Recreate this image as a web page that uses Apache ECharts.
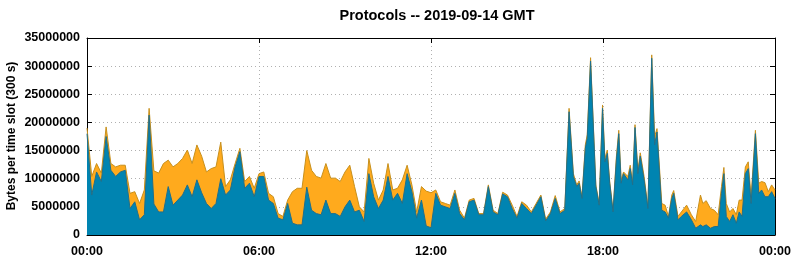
<!DOCTYPE html>
<html>
<head>
<meta charset="utf-8">
<script src="https://cdn.jsdelivr.net/npm/echarts@6/dist/echarts.min.js"></script>
<style>
  html, body { margin: 0; padding: 0; background: #fff; }
  #main { width: 795px; height: 260px; }
</style>
</head>
<body>
<div id="main"></div>
<script>
// time of each sample, minutes after 00:00 GMT
const minutes = [
  0, 10, 20, 30, 40, 50, 60, 70, 80, 90, 100, 110, 120, 130, 140, 150, 160, 170, 180, 190,
  200, 210, 220, 230, 240, 250, 260, 270, 280, 290, 300, 310, 320, 330, 340, 350, 360, 370, 380, 390,
  400, 410, 420, 430, 440, 450, 460, 470, 480, 490, 500, 510, 520, 530, 540, 550, 560, 570, 580, 590,
  600, 610, 620, 630, 640, 650, 660, 670, 680, 690, 700, 710, 720, 730, 740, 750, 760, 770, 780, 790,
  800, 810, 820, 830, 840, 850, 860, 870, 880, 890, 900, 910, 920, 930, 940, 950, 960, 970, 980, 990,
  1000, 1009, 1018, 1025, 1030, 1036, 1043, 1047, 1054, 1065, 1072, 1079, 1084, 1089, 1094, 1101, 1108, 1113, 1118, 1123,
  1132, 1137, 1142, 1147, 1153, 1158, 1166, 1174, 1177, 1182, 1188, 1193, 1203, 1210, 1217, 1224, 1228, 1237, 1244, 1255,
  1265, 1274, 1284, 1289, 1296, 1305, 1313, 1321, 1328, 1333, 1338, 1345, 1352, 1359, 1365, 1371, 1378, 1384, 1390, 1399,
  1406, 1412, 1419, 1426, 1433, 1440
];
// total bytes per slot (all protocols), millions
const totalMB = [
  19.0, 10.4, 12.7, 11.0, 19.2, 12.7, 12.1, 12.4, 12.4, 7.4, 7.7, 5.6, 8.0, 22.5, 11.4, 11.0, 12.7, 13.3, 12.1, 12.7,
  13.6, 15.1, 12.7, 16.0, 14.0, 11.2, 11.8, 12.1, 16.5, 8.6, 9.8, 12.7, 15.4, 9.5, 10.4, 8.3, 10.9, 11.2, 7.4, 6.8,
  3.8, 3.3, 6.2, 7.7, 8.3, 8.3, 15.0, 11.5, 10.4, 10.1, 12.7, 10.1, 10.1, 9.5, 11.2, 12.4, 8.6, 5.0, 4.1, 13.6,
  9.2, 6.2, 8.0, 12.7, 8.0, 8.3, 9.8, 12.4, 8.9, 4.1, 8.6, 7.8, 7.5, 8.0, 5.9, 5.6, 5.3, 8.0, 4.4, 3.0,
  6.2, 6.5, 3.8, 3.8, 8.9, 4.4, 3.8, 7.6, 7.1, 5.3, 3.3, 5.9, 5.3, 4.1, 5.6, 7.1, 2.8, 4.1, 7.0, 4.1,
  4.7, 22.5, 10.9, 8.9, 9.6, 6.8, 16.0, 17.8, 31.5, 8.9, 5.6, 23.1, 13.6, 15.1, 9.5, 4.4, 13.9, 18.6, 9.8, 11.2,
  10.4, 12.4, 9.2, 19.6, 11.5, 14.6, 10.4, 5.0, 5.3, 32.0, 17.5, 18.9, 5.6, 5.3, 3.3, 7.1, 7.9, 3.3, 4.1, 5.3,
  3.6, 2.4, 7.1, 5.6, 6.1, 4.7, 4.4, 3.6, 8.6, 12.0, 5.6, 4.1, 4.7, 3.6, 6.2, 6.2, 12.1, 13.0, 6.8, 18.6,
  9.2, 9.5, 9.3, 7.7, 8.9, 8.0
];
// bytes per slot of the main protocol (blue), millions
const mainMB = [
  18.0, 7.1, 11.2, 9.5, 17.5, 11.5, 10.4, 11.2, 11.5, 4.7, 5.9, 2.7, 3.6, 21.3, 5.5, 4.1, 4.1, 8.6, 5.3, 6.2,
  7.1, 8.9, 6.8, 9.8, 7.5, 5.6, 4.7, 5.6, 10.0, 7.1, 8.0, 12.1, 14.8, 8.3, 9.2, 6.8, 10.4, 10.4, 6.2, 5.6,
  3.0, 2.7, 5.6, 2.1, 1.8, 1.8, 8.5, 4.4, 3.8, 3.6, 6.2, 3.8, 3.8, 3.3, 5.0, 6.2, 4.1, 4.4, 2.4, 10.9,
  6.8, 4.7, 6.2, 10.4, 6.2, 7.4, 5.6, 10.9, 7.7, 3.0, 6.2, 1.6, 1.3, 7.4, 5.3, 5.0, 4.7, 7.4, 3.8, 2.7,
  5.9, 6.2, 3.6, 3.6, 8.6, 4.1, 3.6, 7.3, 6.8, 4.7, 3.0, 5.6, 4.7, 3.8, 5.3, 6.8, 2.5, 3.8, 6.5, 3.8,
  4.4, 21.9, 10.4, 8.6, 9.2, 6.5, 15.4, 17.2, 30.9, 8.6, 5.3, 22.5, 13.0, 14.5, 9.2, 4.1, 13.3, 18.0, 9.2, 10.9,
  9.8, 11.8, 8.9, 19.1, 10.9, 14.0, 9.8, 4.7, 5.0, 31.4, 16.0, 18.3, 4.4, 4.1, 3.0, 6.5, 7.4, 2.7, 3.3, 4.1,
  2.7, 1.2, 1.8, 1.5, 1.8, 1.2, 1.5, 1.5, 7.4, 10.9, 3.3, 2.4, 3.6, 2.1, 4.1, 3.3, 10.9, 11.8, 5.6, 18.0,
  7.4, 8.0, 6.8, 6.8, 7.7, 6.5
];
const xTickLabels = ['00:00', '06:00', '12:00', '18:00', '00:00'];
const yTicks = [0, 5000000, 10000000, 15000000, 20000000, 25000000, 30000000, 35000000];

const MB = 1000000;
const font = 'Liberation Sans, Arial, sans-serif';

const chart = echarts.init(document.getElementById('main'), null, { renderer: 'canvas' });

const gridLine = { show: true, lineStyle: { color: '#b0b0b0', type: [1, 3], width: 1 } };
const tick = { show: true, inside: true, length: 5, lineStyle: { color: '#000' } };
const axisLine = { show: true, onZero: false, lineStyle: { color: '#000', width: 1 } };

const option = {
  animation: false,
  backgroundColor: '#fff',
  title: {
    text: 'Protocols -- 2019-09-14 GMT',
    left: 432,
    top: 3,
    textAlign: 'center',
    textStyle: { fontFamily: font, fontSize: 14.5, fontWeight: 'bold', color: '#000' }
  },
  // y axis title, placed by hand like gnuplot does
  graphic: [{
    type: 'text',
    x: 12,
    y: 136,
    rotation: Math.PI / 2,
    style: {
      text: 'Bytes per time slot (300 s)',
      align: 'center',
      verticalAlign: 'middle',
      fill: '#000',
      font: 'bold 12px Liberation Sans, Arial, sans-serif'
    }
  }],
  grid: { left: 87, right: 20, top: 38, bottom: 25, show: false, containLabel: false, outerBoundsMode: 'none' },
  xAxis: [
    {
      type: 'value',
      min: 0, max: 1440, interval: 360,
      axisLine: axisLine,
      axisTick: tick,
      splitLine: gridLine,
      axisLabel: {
        color: '#000', fontFamily: font, fontSize: 12.5, fontWeight: 'bold', margin: 10,
        formatter: v => xTickLabels[Math.round(v / 360)]
      }
    },
    {
      type: 'value', position: 'top',
      min: 0, max: 1440, interval: 360,
      axisLine: axisLine, axisTick: tick, splitLine: { show: false }, axisLabel: { show: false }
    }
  ],
  yAxis: [
    {
      type: 'value',
      min: yTicks[0], max: yTicks[yTicks.length - 1], interval: 5000000,
      axisLine: axisLine,
      axisTick: tick,
      splitLine: gridLine,
      axisLabel: {
        color: '#000', fontFamily: font, fontSize: 12.5, fontWeight: 'bold', margin: 7,
        formatter: v => String(v)
      }
    },
    {
      type: 'value', position: 'right',
      min: yTicks[0], max: yTicks[yTicks.length - 1], interval: 5000000,
      axisLine: axisLine, axisTick: tick, splitLine: { show: false }, axisLabel: { show: false }
    }
  ],
  series: [
    {
      name: 'other',
      type: 'line',
      showSymbol: false,
      z: 2,
      data: minutes.map((m, i) => [m, totalMB[i] * MB]),
      lineStyle: { color: '#c8901c', width: 1 },
      areaStyle: { color: '#ffaa1d', opacity: 1 }
    },
    {
      name: 'main',
      type: 'line',
      showSymbol: false,
      z: 3,
      data: minutes.map((m, i) => [m, mainMB[i] * MB]),
      lineStyle: { color: '#1f6f8c', width: 1 },
      areaStyle: { color: '#0084b1', opacity: 1 }
    }
  ]
};

chart.setOption(option);
</script>
</body>
</html>
